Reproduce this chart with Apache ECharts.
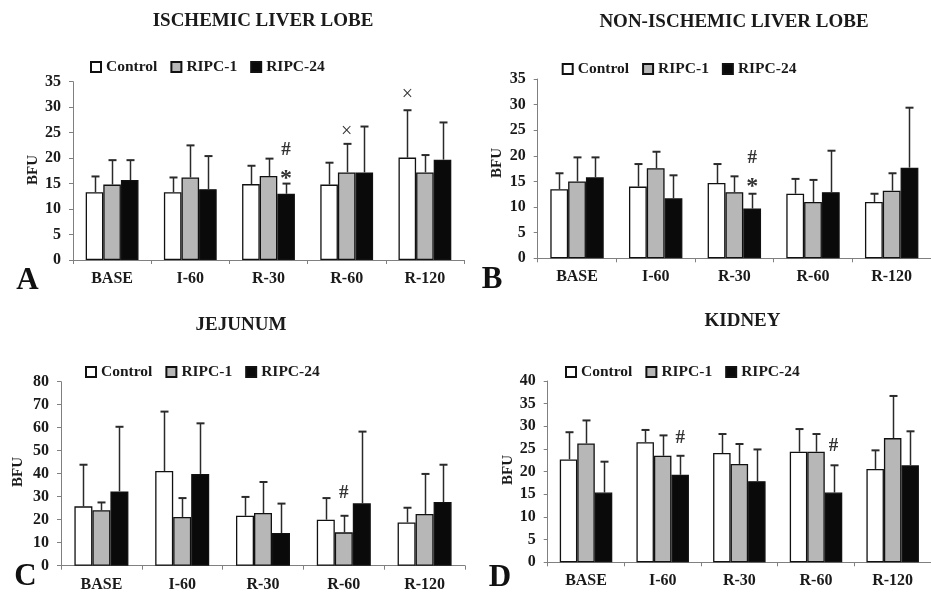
<!DOCTYPE html>
<html>
<head>
<meta charset="utf-8">
<script src="https://cdn.jsdelivr.net/npm/echarts@6/dist/echarts.min.js"></script>
<style>
  html, body { margin: 0; padding: 0; background: #fff; }
  #chart { width: 931px; height: 594px; }
</style>
</head>
<body>
<div id="chart"></div>
<script>
// categories / groups
const categories = ["BASE", "I-60", "R-30", "R-60", "R-120"];
const seriesNames = ["Control", "RIPC-1", "RIPC-24"];

// A - ischemic liver lobe (mean, SD)
const ischControl = [13.3, 13.3, 14.9, 14.8, 20.1];
const ischControlSD = [3.1, 2.9, 3.6, 4.3, 9.3];
const ischRipc1 = [14.8, 16.2, 16.5, 17.2, 17.2];
const ischRipc1SD = [4.8, 6.3, 3.4, 5.6, 3.4];
const ischRipc24 = [15.7, 13.9, 13.0, 17.2, 19.7];
const ischRipc24SD = [3.9, 6.5, 2.0, 9.0, 7.3];

// B - non-ischemic liver lobe
const nonIschControl = [13.5, 14.0, 14.7, 12.6, 11.0];
const nonIschControlSD = [3.1, 4.4, 3.7, 2.9, 1.6];
const nonIschRipc1 = [15.0, 17.6, 12.9, 11.0, 13.2];
const nonIschRipc1SD = [4.7, 3.2, 3.1, 4.3, 3.4];
const nonIschRipc24 = [15.8, 11.7, 9.7, 12.9, 17.7];
const nonIschRipc24SD = [3.9, 4.5, 2.9, 8.1, 11.7];

// C - jejunum
const jejControl = [25.8, 41.2, 21.7, 20.0, 18.8];
const jejControlSD = [18.1, 25.8, 8.2, 9.4, 6.4];
const jejRipc1 = [24.1, 21.2, 22.9, 14.5, 22.5];
const jejRipc1SD = [3.4, 8.2, 13.5, 7.2, 17.4];
const jejRipc24 = [32.3, 39.9, 14.2, 27.1, 27.7];
const jejRipc24SD = [28.1, 22.0, 12.8, 31.2, 16.2];

// D - kidney
const kidControl = [22.7, 26.5, 24.1, 24.4, 20.6];
const kidControlSD = [6.0, 2.7, 4.2, 5.0, 4.1];
const kidRipc1 = [26.2, 23.5, 21.7, 24.4, 27.4];
const kidRipc1SD = [5.1, 4.5, 4.4, 3.9, 9.3];
const kidRipc24 = [15.4, 19.3, 17.9, 15.4, 21.4];
const kidRipc24SD = [6.8, 4.2, 7.0, 6.0, 7.5];

// significance marks: [category, group index, y value, mark]
const marksA = [["R-30", 2, 21.6, "#"], ["R-30", 2, 17.0, "*"], ["R-60", 1, 25.2, "×"], ["R-120", 0, 32.4, "×"]];
const marksB = [["R-30", 2, 19.5, "#"], ["R-30", 2, 15.0, "*"]];
const marksC = [["R-60", 1, 31.4, "#"]];
const marksD = [["I-60", 2, 27.5, "#"], ["R-60", 2, 25.6, "#"]];

const yTicksA = { min: 0, max: 35, interval: 5 };
const yTicksB = { min: 0, max: 35, interval: 5 };
const yTicksC = { min: 0, max: 80, interval: 10 };
const yTicksD = { min: 0, max: 40, interval: 5 };

const FONT = "'Liberation Serif', 'Times New Roman', serif";
const INK = "#1a1a1a";
const barColors = ["#ffffff", "#b7b7b7", "#0a0a0a"];

const panels = [
  { title: "ISCHEMIC LIVER LOBE", letter: "A", means: [ischControl, ischRipc1, ischRipc24], sds: [ischControlSD, ischRipc1SD, ischRipc24SD], marks: marksA, y: yTicksA,
    grid: { left: 73, top: 81.7, width: 391, height: 178.3 }, barW: 17.6, titleXY: [263, 21], legendXY: [90, 59], bfuXY: [33, 170], letterXY: [27.5, 281] },
  { title: "NON-ISCHEMIC LIVER LOBE", letter: "B", means: [nonIschControl, nonIschRipc1, nonIschRipc24], sds: [nonIschControlSD, nonIschRipc1SD, nonIschRipc24SD], marks: marksB, y: yTicksB,
    grid: { left: 537.7, top: 79, width: 404, height: 179.3 }, barW: 17.8, titleXY: [734, 22], legendXY: [561.7, 61], bfuXY: [497, 163], letterXY: [492, 280] },
  { title: "JEJUNUM", letter: "C", means: [jejControl, jejRipc1, jejRipc24], sds: [jejControlSD, jejRipc1SD, jejRipc24SD], marks: marksC, y: yTicksC,
    grid: { left: 61, top: 381.7, width: 404, height: 184 }, barW: 18, titleXY: [241, 325], legendXY: [85, 364], bfuXY: [18.5, 472], letterXY: [25.5, 577] },
  { title: "KIDNEY", letter: "D", means: [kidControl, kidRipc1, kidRipc24], sds: [kidControlSD, kidRipc1SD, kidRipc24SD], marks: marksD, y: yTicksD,
    grid: { left: 547.7, top: 381, width: 392.5, height: 181.3 }, barW: 17.5, titleXY: [742.5, 321], legendXY: [565, 364], bfuXY: [508.5, 470], letterXY: [500, 578] }
];

function errorRenderer(offset) {
  return function (params, api) {
    const top = api.coord([api.value(0), api.value(2)]);
    const base = api.coord([api.value(0), api.value(1)]);
    const x = Math.round(top[0] + offset) + 0.5;
    return {
      type: "group",
      children: [
        { type: "line", shape: { x1: x, y1: base[1], x2: x, y2: top[1] }, style: { stroke: "#2a2a2a", lineWidth: 1.5 } },
        { type: "line", shape: { x1: x - 4, y1: top[1], x2: x + 4, y2: top[1] }, style: { stroke: "#2a2a2a", lineWidth: 2 } }
      ]
    };
  };
}

function markRenderer(barW) {
  return function (params, api) {
    const p = api.coord([api.value(0), api.value(2)]);
    const k = api.value(1);
    const mark = panelsMarkText[params.seriesId][params.dataIndex];
    const big = mark === "*" ? 24 : mark === "×" ? 20 : 19;
    return {
      type: "text",
      x: p[0] + (k - 1) * barW,
      y: p[1] + (mark === "*" ? 5 : 0),
      style: { text: mark, font: (mark === "×" ? "normal " : "bold ") + big + "px " + FONT, fill: "#333", align: "center", verticalAlign: "middle" }
    };
  };
}

const panelsMarkText = {};
const grids = [], xAxes = [], yAxes = [], series = [], legends = [], graphics = [];

panels.forEach(function (p, gi) {
  grids.push(Object.assign({ containLabel: false }, p.grid));
  xAxes.push({
    type: "category", gridIndex: gi, data: categories, boundaryGap: true,
    axisLine: { lineStyle: { color: "#808080", width: 1 } },
    axisTick: { show: true, length: 4, alignWithLabel: false, lineStyle: { color: "#808080" } },
    axisLabel: { fontFamily: FONT, fontWeight: "bold", fontSize: 16, color: INK, margin: 11, interval: 0 }
  });
  yAxes.push({
    type: "value", gridIndex: gi, min: p.y.min, max: p.y.max, interval: p.y.interval,
    axisLine: { show: true, lineStyle: { color: "#808080", width: 1 } },
    axisTick: { show: true, length: 4, lineStyle: { color: "#808080" } },
    splitLine: { show: false },
    axisLabel: { fontFamily: FONT, fontWeight: "bold", fontSize: 16, color: INK, margin: 12 }
  });
  seriesNames.forEach(function (name, k) {
    series.push({
      type: "bar", name: name, xAxisIndex: gi, yAxisIndex: gi,
      data: p.means[k], barWidth: p.barW, barGap: "0%",
      itemStyle: { color: barColors[k], borderColor: "#111", borderWidth: 1.3 },
      silent: true, z: 2
    });
  });
  seriesNames.forEach(function (name, k) {
    series.push({
      type: "custom", xAxisIndex: gi, yAxisIndex: gi, z: 3, silent: true,
      renderItem: errorRenderer((k - 1) * p.barW),
      data: p.means[k].map(function (m, i) { return [i, m, +(m + p.sds[k][i]).toFixed(2)]; })
    });
  });
  const markId = "marks" + gi;
  panelsMarkText[markId] = p.marks.map(function (m) { return m[3]; });
  series.push({
    id: markId, type: "custom", xAxisIndex: gi, yAxisIndex: gi, z: 4, silent: true,
    renderItem: markRenderer(p.barW),
    data: p.marks.map(function (m) { return [categories.indexOf(m[0]), m[1], m[2]]; })
  });
  legends.push({
    left: p.legendXY[0], top: p.legendXY[1], padding: 0, itemGap: 13,
    itemWidth: 10, itemHeight: 10, icon: "rect", selectedMode: false,
    data: seriesNames,
    textStyle: { fontFamily: FONT, fontWeight: "bold", fontSize: 15.5, color: INK }
  });
  graphics.push({
    type: "text", x: p.titleXY[0], y: p.titleXY[1],
    style: { text: p.title, font: "bold 19px " + FONT, fill: INK, align: "center", verticalAlign: "middle" }
  });
  graphics.push({
    type: "text", x: p.bfuXY[0], y: p.bfuXY[1], rotation: Math.PI / 2,
    style: { text: "BFU", font: "bold 15px " + FONT, fill: INK, align: "center", verticalAlign: "middle" }
  });
  graphics.push({
    type: "text", x: p.letterXY[0], y: p.letterXY[1],
    style: { text: p.letter, font: "bold 31px " + FONT, fill: "#111", align: "center", verticalAlign: "middle" }
  });
});

const chart = echarts.init(document.getElementById("chart"));
chart.setOption({
  animation: false,
  backgroundColor: "#ffffff",
  grid: grids,
  xAxis: xAxes,
  yAxis: yAxes,
  legend: legends,
  graphic: graphics,
  series: series
});
</script>
</body>
</html>
